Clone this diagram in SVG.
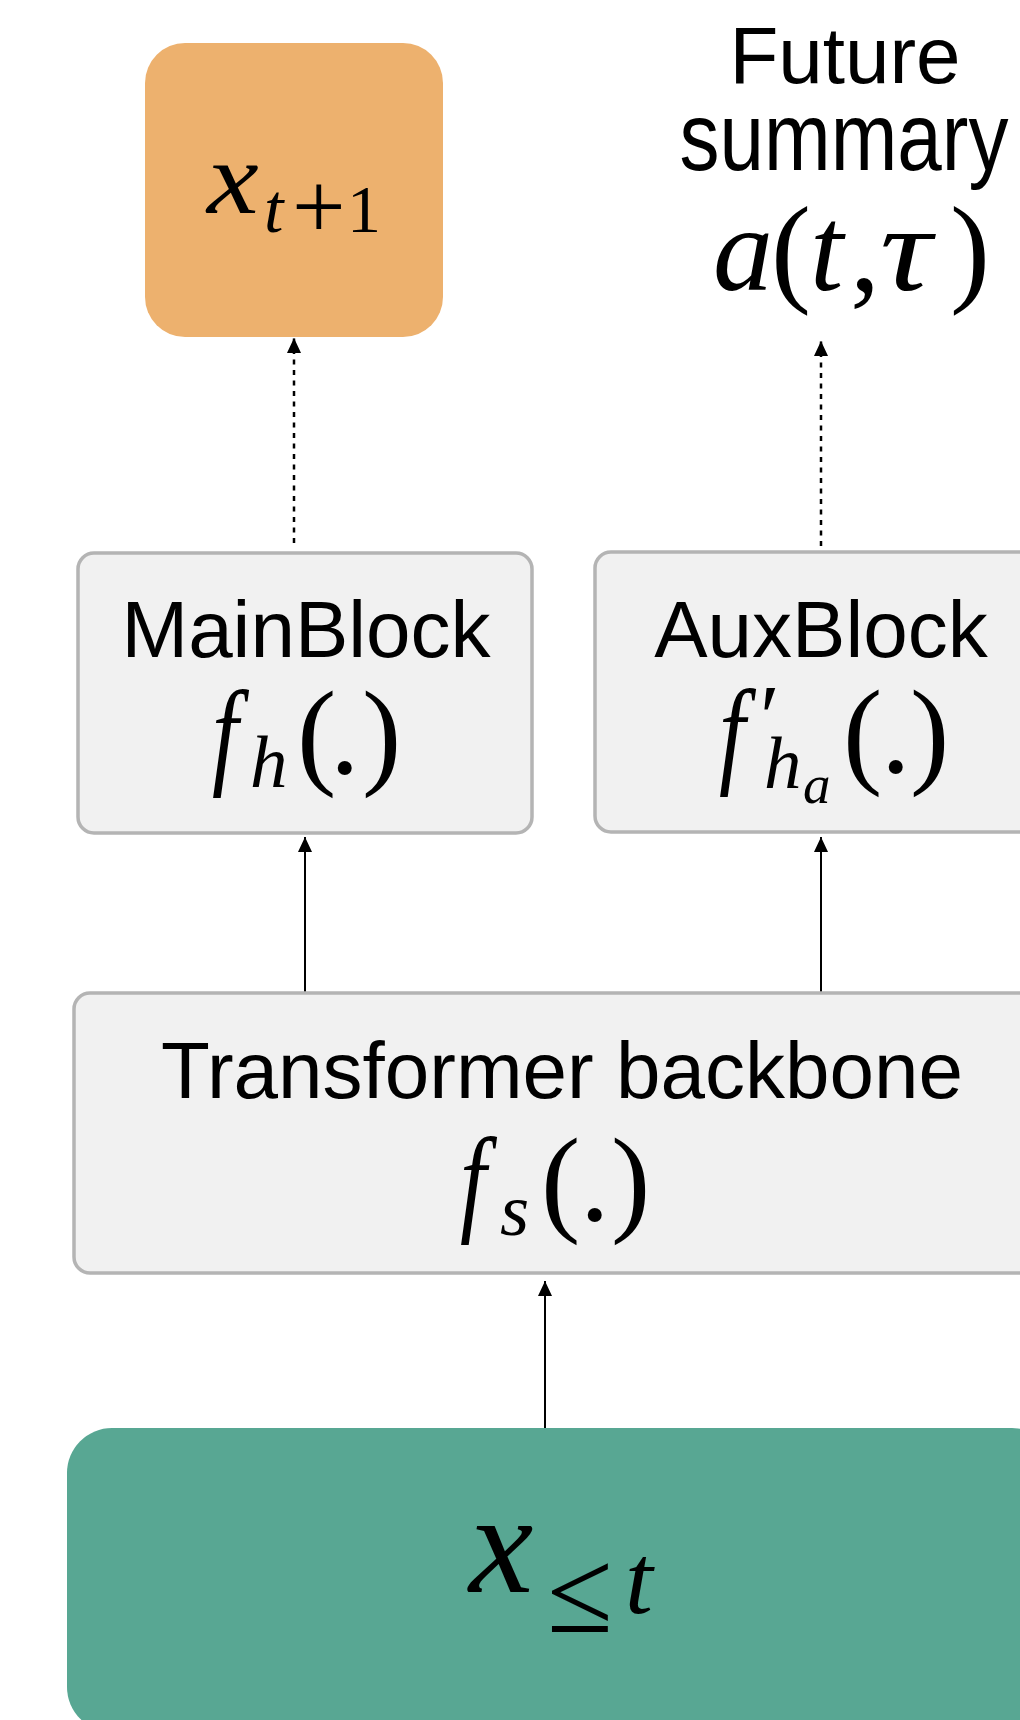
<svg xmlns="http://www.w3.org/2000/svg" width="1020" height="1720" viewBox="0 0 1020 1720">
  <style>
    .sans { font-family: "Liberation Sans", Arial, Helvetica, sans-serif; font-size: 80px; fill: #000; }
    .mi { font-family: "Liberation Serif", "Times New Roman", serif; font-style: italic; fill: #000; }
    .mr { font-family: "Liberation Serif", "Times New Roman", serif; fill: #000; }
    .block { fill: #f1f1f1; stroke: #b4b4b4; stroke-width: 3.5; }
    .link { stroke: #000; stroke-width: 2; fill: none; }
    .dotted { stroke-width: 2.5; stroke-dasharray: 5 5.5; }
  </style>
  <defs>
    <marker id="head" markerUnits="userSpaceOnUse" viewBox="0 0 15 14" refX="15" refY="7" markerWidth="15" markerHeight="14" orient="auto">
      <path d="M0,0 L15,7 L0,14 Z" fill="#000"/>
    </marker>
  </defs>

  <rect width="1020" height="1720" fill="#fff"/>

  <!-- connectors -->
  <g id="connectors">
    <line class="link dotted" x1="294" y1="543" x2="294" y2="338" marker-end="url(#head)"/>
    <line class="link dotted" x1="821" y1="546" x2="821" y2="341" marker-end="url(#head)"/>
    <line class="link" x1="305" y1="993" x2="305" y2="837" marker-end="url(#head)"/>
    <line class="link" x1="821" y1="993" x2="821" y2="837" marker-end="url(#head)"/>
    <line class="link" x1="545" y1="1430" x2="545" y2="1281" marker-end="url(#head)"/>
  </g>

  <!-- next-step prediction -->
  <g id="output-next">
    <rect x="145" y="43" width="298" height="294" rx="40" fill="#edb16e"/>
    <text class="mi" transform="translate(207,213) scale(1.12,1)" font-size="104">x</text>
    <text class="mi" x="264" y="232" font-size="70">t</text>
    <text class="mr" x="292" y="238" font-size="95">+</text>
    <text class="mr" x="347" y="232" font-size="68">1</text>
  </g>

  <!-- auxiliary target -->
  <g id="future-summary">
    <text class="sans" x="845" y="83" text-anchor="middle">Future</text>
    <text class="sans" text-anchor="middle" transform="translate(844,170) scale(1,1.2)">summary</text>
    <text class="mi" x="713" y="290" font-size="120">a</text>
    <text class="mr" x="771" y="290" font-size="120">(</text>
    <text class="mi" x="810" y="290" font-size="120">t</text>
    <text class="mr" x="850" y="290" font-size="120">,</text>
    <text class="mi" transform="translate(880,290) scale(1.2,1)" font-size="120">τ</text>
    <text class="mr" x="950" y="290" font-size="120">)</text>
  </g>

  <!-- main head -->
  <g id="main-block">
    <rect class="block" x="78" y="553" width="454" height="280" rx="16"/>
    <text class="sans" x="306" y="657" text-anchor="middle">MainBlock</text>
    <text class="mi" transform="translate(212,773) scale(0.8,1)" font-size="118">f</text>
    <text class="mi" x="250" y="787" font-size="75">h</text>
    <text class="mr" x="297" y="773" font-size="118">(</text>
    <text class="mr" x="330" y="773" font-size="118">.</text>
    <text class="mr" x="362" y="773" font-size="118">)</text>
  </g>

  <!-- auxiliary head -->
  <g id="aux-block">
    <rect class="block" x="595" y="552" width="470" height="280" rx="16"/>
    <text class="sans" x="821" y="657" text-anchor="middle">AuxBlock</text>
    <text class="mi" transform="translate(719,772) scale(0.8,1)" font-size="118">f</text>
    <text class="mr" x="760" y="748" font-size="90">′</text>
    <text class="mi" x="764" y="788" font-size="75">h</text>
    <text class="mi" x="803" y="803" font-size="55">a</text>
    <text class="mr" x="843" y="772" font-size="118">(</text>
    <text class="mr" x="881" y="772" font-size="118">.</text>
    <text class="mr" x="910" y="772" font-size="118">)</text>
  </g>

  <!-- shared backbone -->
  <g id="backbone">
    <rect class="block" x="74" y="993" width="990" height="280" rx="16"/>
    <text class="sans" x="562" y="1098" text-anchor="middle">Transformer backbone</text>
    <text class="mi" transform="translate(460,1220) scale(0.8,1)" font-size="118">f</text>
    <text class="mi" x="500" y="1235" font-size="75">s</text>
    <text class="mr" x="541" y="1220" font-size="118">(</text>
    <text class="mr" x="580" y="1220" font-size="118">.</text>
    <text class="mr" x="611" y="1220" font-size="118">)</text>
  </g>

  <!-- input history -->
  <g id="input-history">
    <rect x="67" y="1428" width="990" height="304" rx="45" fill="#58a793"/>
    <text class="mi" x="469" y="1592" font-size="145">x</text>
    <text class="mr" x="547" y="1632" font-size="120">≤</text>
    <text class="mi" x="625" y="1613" font-size="100">t</text>
  </g>
</svg>
